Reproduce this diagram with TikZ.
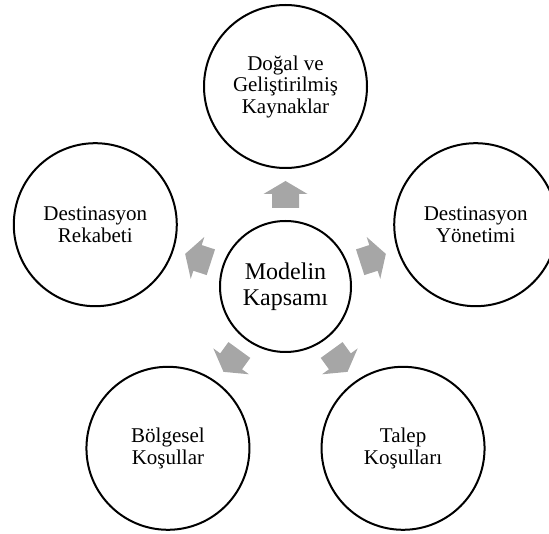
\documentclass[tikz,border=0pt]{standalone}
\usepackage{fontspec}
\setmainfont{Liberation Serif}
\usetikzlibrary{calc}

\definecolor{okgri}{RGB}{166,166,166}

\tikzset{
    kapsam/.style={circle, draw, line width=2pt, minimum size=131pt, inner sep=0pt,
        align=center, font=\fontsize{24}{26}\selectfont},
    bilesen/.style={circle, draw, line width=2pt, minimum size=163pt, inner sep=0pt,
        align=center, font=\fontsize{21}{21.5}\selectfont},
    blokok/.pic={
        \fill[okgri] (-13.5pt,-13.5pt) -- (0.5pt,-13.5pt) -- (0.5pt,-22pt) -- (13.5pt,0pt)
            -- (0.5pt,22pt) -- (0.5pt,13.5pt) -- (-13.5pt,13.5pt) -- cycle;
    }
}

\begin{document}
\begin{tikzpicture}
    \useasboundingbox (0pt,0pt) rectangle (549pt,-534pt);
    \clip (0pt,0pt) rectangle (549pt,-534pt);

    % Merkez
    \node[kapsam] (kapsam) at (285.5pt,-286.5pt) {Modelin\\Kapsamı};

    % Bilesenler
    \foreach \ad/\aci/\metin in {kaynak/90/{Doğal ve\\Geliştirilmiş\\Kaynaklar},
        yonetim/18/{Destinasyon\\Yönetimi}, talep/-54/{Talep\\Koşulları},
        bolge/-126/{Bölgesel\\Koşullar}, rekabet/162/{Destinasyon\\Rekabeti}} {
        \node[bilesen] (\ad) at ($(kapsam)+(\aci:200pt)$) {\metin};
    }

    % Oklar
    \foreach \ad/\aci/\ters in {kaynak/90/270, yonetim/18/198, talep/-54/126,
        bolge/-126/54, rekabet/162/342} {
        \pic[rotate=\aci] at ($(kapsam.\aci)!0.5!(\ad.\ters)$) {blokok};
    }
\end{tikzpicture}
\end{document}
